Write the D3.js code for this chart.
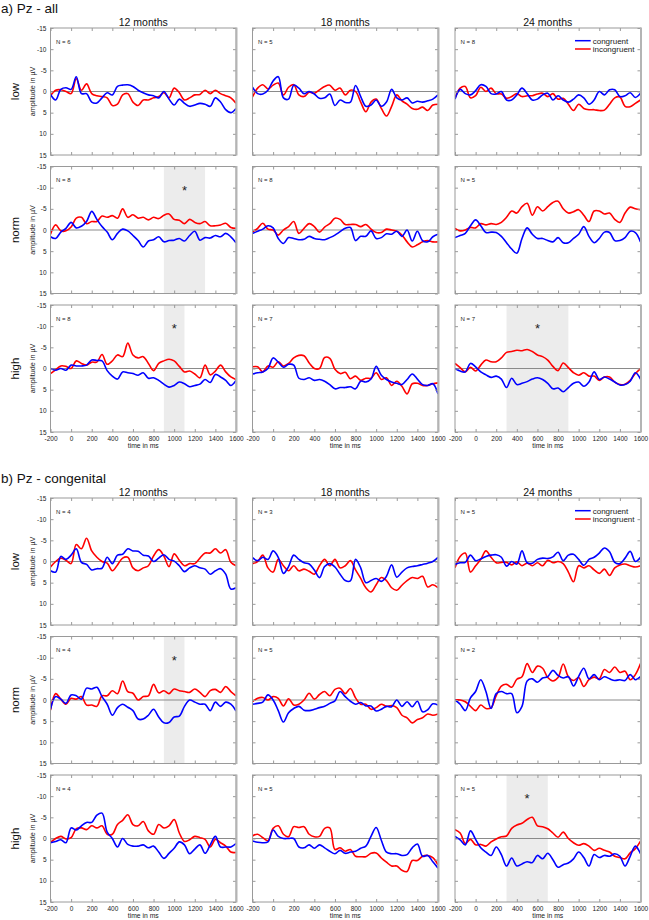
<!DOCTYPE html>
<html><head><meta charset="utf-8">
<script src="https://cdn.jsdelivr.net/npm/d3@7"></script>
<style>body{margin:0;background:#fff}svg{display:block;font-family:"Liberation Sans",Arial,Helvetica,sans-serif}</style>
</head><body><svg id="c" width="649" height="920"></svg>
<script>
// ---------- data ----------
const times = [-200,-150,-100,-50,0,50,100,150,200,250,300,350,400,450,500,550,600,650,700,750,800,850,900,950,1000,1050,1100,1150,1200,1250,1300,1350,1400,1450,1500,1550,1600];
const sectionTitles = ["a) Pz - all", "b) Pz - congenital"];
const ageLabels = ["12 months", "18 months", "24 months"];
const groupLabels = ["low", "norm", "high"];
const legendLabels = ["congruent", "incongruent"];
const yTickValues = [-15,-10,-5,0,5,10,15];
const xTickValues = [-200,0,200,400,600,800,1000,1200,1400,1600];
const nValues = [[6,5,8],[8,8,5],[8,7,7],[4,3,5],[4,5,2],[4,5,5]]; // rows: a-low,a-norm,a-high,b-low,b-norm,b-high
// significant windows: section, row, col, from, to (ms)
const sigSection = [0,0,0,1,1];
const sigRow     = [1,2,2,1,2];
const sigCol     = [0,0,2,0,2];
const sigFrom    = [900,900,300,900,300];
const sigTo      = [1300,1100,900,1100,700];
const starLevel = -10;

// a) Pz - all
const aLow12Con  = [0.7,2.0,-0.5,-0.9,-0.5,-3.5,0.5,0.5,2.5,2.7,1.5,0.3,0.8,-1.2,-1.5,-1.6,-1.2,-0.3,0.3,0.8,1.0,1.5,0,1.8,3.2,1.8,2.8,3.5,3.2,2.8,3.0,3.5,1.5,2.5,4.3,5.0,4.0];
const aLow12Inc  = [1.0,-0.3,-0.4,0.0,0.5,-3.0,-0.3,-1.8,0.5,1.0,1.2,1.5,3.3,3.0,0.8,0.5,2.5,3.3,2.0,2.0,1.5,1.2,0.3,1.5,-0.8,0.3,2.0,1.5,0.8,0.7,-0.3,0.5,-0.3,0.5,1.0,1.5,2.8];
const aLow18Con  = [-1.0,0.5,0.6,-0.3,-2.5,-3.5,1.5,1.8,-1.5,-0.8,0.5,0.0,0.6,1.6,1.5,0.6,3.3,2.0,2.6,2.5,-1.4,1.2,3.5,3.2,2.0,3.5,2.5,-0.5,1.5,2.0,1.5,2.7,2.3,2.5,2.2,1.8,0.8];
const aLow18Inc  = [1.3,-0.8,-1.6,-0.6,-1.5,-2.0,0.8,-1.0,-1.6,0.8,1.2,0.2,0.4,-0.4,-1.2,-1.5,-0.3,-0.8,0.8,-0.3,0.0,2.5,4.8,2.5,1.8,4.0,5.8,3.5,0.8,2.2,3.0,4.0,4.2,3.7,4.5,3.2,3.0];
const aLow24Con  = [1.8,-0.5,0.5,0.8,-0.2,-1.6,-1.2,0.5,0.6,0.0,2.0,2.0,0.8,-0.8,0.5,2.0,1.8,0.8,0.4,2.0,1.0,2.0,2.5,1.8,0.8,1.5,3.0,2.0,0.0,0.8,-0.4,-0.4,1.2,1.0,0.3,1.4,0.4];
const aLow24Inc  = [1.6,-0.8,-1.2,1.5,1.0,-1.0,0.0,-0.8,0.5,0.6,1.6,1.2,0.5,1.2,1.0,1.0,0.6,0.4,1.2,0.5,1.8,1.6,3.0,4.5,3.0,4.0,4.3,4.3,4.5,4.4,3.0,1.5,1.3,3.5,3.6,2.8,2.0];
const aNorm12Con = [1.6,2.0,0.5,-0.4,-1.8,-0.5,-0.9,-2.0,-4.4,-2.5,-0.8,0.5,2.3,0.8,-0.2,0.2,1.3,2.5,4.0,2.6,2.3,1.6,2.8,2.5,2.4,2.0,2.6,1.3,0.3,2.4,1.8,1.9,1.3,1.6,0.8,1.6,3.0];
const aNorm12Inc = [1.0,-1.2,0.2,0.2,-0.7,-2.8,-3.0,-1.5,-2.0,-2.0,-3.3,-3.0,-3.4,-2.8,-5.0,-3.0,-3.6,-2.8,-3.0,-2.4,-3.0,-2.7,-3.5,-3.8,-2.5,-2.3,-1.5,-2.5,-1.8,-1.5,-2.0,-1.0,-1.0,-1.2,-1.6,-0.6,-0.4];
const aNorm18Con = [0.8,0.3,-0.2,-1.0,-0.5,2.0,3.2,1.8,2.0,2.3,2.2,1.5,2.0,2.2,2.3,1.8,1.2,0.4,-0.4,-0.6,2.5,1.5,1.5,0.2,2.0,1.8,0.9,1.0,0.3,1.5,0.0,2.6,0.3,2.5,2.8,1.6,1.0];
const aNorm18Inc = [0.5,-0.4,-1.6,-0.2,0.0,1.2,0.0,-0.8,-2.0,0.8,-0.4,-1.5,-0.8,0.5,-0.7,-1.5,-2.8,-2.5,-1.3,-1.3,-1.3,-0.8,-1.3,-0.2,0.6,0.6,-0.2,0.0,0.3,1.2,2.8,4.0,3.5,2.8,2.5,2.8,2.8];
const aNorm24Con = [1.8,1.3,0.8,-1.0,-2.4,-1.0,0.6,0.5,0.6,1.5,3.0,4.5,5.5,2.0,-0.5,1.0,2.0,2.0,2.5,2.8,1.8,3.0,3.0,2.0,1.0,-0.8,1.5,3.0,2.0,0.5,0.6,2.5,2.5,1.8,0.3,0.6,2.8];
const aNorm24Inc = [-0.4,0.2,0.0,-0.6,-0.5,-1.5,-1.2,-1.5,-1.3,-1.8,-3.0,-4.5,-4.0,-5.5,-6.3,-3.5,-5.5,-4.5,-5.5,-6.5,-6.8,-5.0,-4.0,-4.3,-4.8,-3.5,-2.0,-4.5,-4.5,-3.8,-4.0,-2.5,-1.8,-4.0,-5.4,-5.0,-4.8];
const aHigh12Con = [0.0,0.4,0.0,0.4,-0.8,-0.6,-0.6,-0.8,-2.0,-1.9,-1.8,0.5,1.8,2.5,0.8,1.0,1.2,1.6,1.0,2.3,2.2,2.8,3.7,4.4,4.0,3.2,3.6,4.3,4.0,3.7,2.6,3.3,1.4,2.0,2.8,4.0,2.8];
const aHigh12Inc = [1.2,0.3,-0.6,-0.5,0.0,-1.8,-1.2,-0.8,-1.5,-1.5,-3.3,-1.0,-1.8,-3.2,-2.8,-6.0,-3.2,-2.5,-2.8,-1.2,0.5,-1.2,-1.8,-2.2,-1.8,-0.5,0.8,0.6,1.3,2.2,-0.8,1.5,0.6,-0.8,0.8,2.0,2.6];
const aHigh18Con = [1.3,1.0,0.8,0.0,-2.5,-1.5,-0.3,-1.0,-0.8,2.3,2.6,2.2,2.8,2.6,3.0,3.8,4.8,4.5,4.5,4.3,4.8,3.0,3.2,2.5,-0.5,1.6,2.6,3.2,3.5,3.8,2.6,1.3,2.5,3.8,4.0,3.6,6.0];
const aHigh18Inc = [-0.4,-0.4,0.8,-0.6,-0.3,-1.6,-0.6,-1.2,-2.5,-3.1,-3.0,-1.3,0.0,0.0,-2.6,-2.4,0.2,1.2,0.9,2.4,1.8,2.8,2.3,2.3,1.0,2.6,2.2,4.0,3.0,4.2,6.0,3.6,3.5,4.0,4.0,3.6,3.4];
const aHigh24Con = [0.0,0.6,0.8,-1.2,-0.4,0.8,1.5,2.1,1.8,2.5,4.5,2.3,3.8,3.5,3.1,2.5,2.2,2.6,3.5,4.8,4.6,5.5,4.5,3.5,3.2,4.2,3.2,0.8,2.6,2.0,2.5,3.2,3.9,3.8,3.0,1.0,2.5];
const aHigh24Inc = [-1.2,-0.2,0.8,-0.3,0.6,-0.8,-2.0,-1.6,-1.6,-2.5,-3.8,-4.0,-4.3,-4.2,-4.5,-4.0,-3.2,-2.8,-2.0,-0.5,0.5,-1.3,-0.2,1.0,1.6,1.0,1.8,1.8,2.8,2.0,2.0,3.2,3.8,3.7,2.8,1.2,0.0];
// b) Pz - congenital
const bLow12Con  = [2.2,2.5,-1.2,-0.5,-1.5,-3.0,0.2,0.7,2.0,1.7,1.6,-1.0,0.5,-1.5,-1.7,-3.0,-2.5,-2.4,-1.5,-1.3,0.0,-0.8,-1.6,-0.5,-0.1,1.0,2.4,1.5,1.0,1.5,1.8,3.0,2.2,1.7,3.0,6.5,6.2];
const bLow12Inc  = [1.3,0.0,-0.8,-0.3,0.5,-4.0,-3.0,-5.5,-2.5,-1.0,0.0,0.4,2.2,0.8,-0.8,-1.0,1.5,2.2,1.5,1.0,-1.3,-2.8,-1.3,1.2,-1.8,-0.3,1.0,0.5,0.5,-0.8,-2.0,-2.0,-3.0,-2.0,-2.8,0.2,1.0];
const bLow18Con  = [-0.9,-0.2,-1.0,-0.5,-2.5,-1.0,2.8,1.2,-1.5,-0.5,0.3,0.6,2.0,3.8,1.2,0.5,1.3,3.0,4.5,4.6,-0.5,1.5,5.0,4.5,4.0,4.7,3.5,0.8,3.7,2.5,1.5,1.2,1.0,0.7,0.4,0.0,-1.0];
const bLow18Inc  = [0.5,0.0,-1.5,1.5,2.5,-0.5,1.0,2.2,1.0,2.2,1.8,2.3,3.0,1.0,-0.5,1.0,-0.5,1.5,1.0,-0.2,2.0,4.0,6.2,7.2,5.5,3.8,4.5,6.2,6.8,5.6,4.5,3.8,4.0,3.5,6.0,5.5,6.2];
const bLow24Con  = [0.7,0.3,0.2,-1.5,-0.2,-0.6,-1.2,-1.5,-1.6,-1.0,1.1,0.0,0.6,-2.5,0.3,0.4,-0.5,-0.8,-0.7,-1.1,-2.2,-0.2,-1.5,-1.7,-0.5,0.9,-0.5,-1.0,-2.0,-3.2,-2.3,0.2,0.5,-0.8,-2.4,0.0,-1.0];
const bLow24Inc  = [1.5,-1.2,-2.0,2.5,1.0,-0.5,-2.5,-1.0,0.3,0.2,0.2,0.8,0.1,1.0,0.4,1.0,0.3,1.0,-0.3,0.3,0.0,0.5,2.5,4.8,1.0,1.5,1.0,2.0,2.8,1.8,3.3,1.5,0.8,0.6,1.0,1.3,1.0];
const bNorm12Con = [2.2,-0.8,-0.2,0.8,-1.2,-1.0,-0.2,-2.8,-2.6,-3.0,-0.8,1.0,3.6,1.8,1.0,1.7,2.5,4.5,4.5,3.6,2.2,4.0,5.4,5.3,4.0,3.8,1.5,0.0,0.5,1.0,1.0,2.5,0.5,1.5,0.5,1.0,2.6];
const bNorm12Inc = [2.4,-1.5,-0.2,1.0,-0.4,-0.2,-0.8,1.2,1.2,1.5,-1.0,-1.0,-2.2,-1.5,-4.5,-2.0,-1.6,0.0,-0.8,-1.0,-3.7,-1.7,-2.2,-1.5,-2.6,-2.2,-2.0,-1.8,-2.6,-1.8,-0.8,-2.2,-2.5,-1.8,-3.2,-2.0,-1.0];
const bNorm18Con = [1.0,0.8,0.5,-1.2,0.0,2.5,5.2,3.0,2.0,1.5,2.4,2.5,2.2,1.8,1.5,0.8,0.2,-2.0,-0.8,0.3,1.0,0.6,1.4,1.4,2.6,2.2,1.5,1.6,0.0,1.5,0.4,1.6,0.3,2.8,2.3,0.9,1.2];
const bNorm18Inc = [0.4,-0.4,-0.6,0.0,-0.8,-0.4,1.4,-0.3,1.2,1.0,0.0,-1.6,-0.2,-1.3,-2.0,-1.0,-2.5,-2.8,-1.5,-2.7,-0.5,1.0,1.0,2.2,1.8,1.0,1.5,1.3,1.8,3.6,4.2,5.4,4.6,4.2,3.3,3.6,3.3];
const bNorm24Con = [0.0,1.0,2.5,-0.5,-2.0,-4.8,-2.0,2.0,-1.5,-2.0,-1.5,-1.5,3.0,1.5,-4.5,-5.0,-4.2,-5.2,-5.5,-7.0,-5.8,-5.2,-5.5,-3.3,-5.6,-7.5,-5.0,-6.0,-4.8,-5.5,-5.0,-4.6,-4.8,-4.6,-6.0,-4.8,-5.5];
const bNorm24Inc = [0.0,0.0,0.4,1.5,2.5,1.2,2.0,1.8,-1.0,-3.3,-3.7,-3.0,-4.9,-5.5,-8.6,-6.5,-8.0,-7.5,-5.3,-4.5,-5.3,-8.5,-5.5,-4.6,-5.3,-3.2,-4.8,-5.4,-5.0,-7.2,-6.5,-7.8,-6.5,-6.8,-4.8,-6.0,-8.6];
const bHigh12Con = [1.0,0.7,0.3,1.0,-2.5,-2.0,-3.0,-3.8,-3.8,-5.5,-6.0,-1.5,0.0,2.0,0.0,1.4,1.8,1.8,1.5,2.2,1.8,3.2,4.7,3.5,2.3,0.8,1.5,3.6,2.5,1.5,3.5,1.5,-0.5,2.0,2.0,2.0,1.2];
const bHigh12Inc = [0.9,0.0,-0.5,0.1,-0.2,-2.3,-2.5,-2.1,-3.0,-2.5,-3.0,-1.0,-1.0,-3.3,-4.3,-5.6,-3.3,-3.0,-4.0,-1.8,-1.0,-3.3,-2.5,-3.0,-4.5,-1.3,0.7,0.3,-0.5,-0.2,0.2,2.0,0.2,1.0,1.8,3.2,3.3];
const bHigh18Con = [0.6,0.9,1.0,0.8,-2.0,-0.5,0.0,0.0,0.0,2.0,2.2,1.5,2.3,1.5,2.2,3.0,3.6,2.8,3.5,3.2,3.0,2.3,1.8,-0.5,-2.6,0.4,3.2,3.6,3.6,4.0,3.8,2.2,1.3,4.2,4.0,5.5,7.0];
const bHigh18Inc = [-0.6,-1.0,-0.2,0.5,-2.4,-3.0,-1.0,-0.4,-2.8,-2.6,-2.8,-1.0,-0.4,-0.5,-2.4,-2.5,2.6,2.2,3.0,2.6,4.2,4.3,4.3,3.5,3.4,4.6,5.6,6.5,6.5,7.5,7.8,5.2,5.2,4.2,4.0,4.5,6.2];
const bHigh24Con = [-0.5,0.3,1.5,-1.8,0.2,2.2,3.2,4.0,2.0,3.8,6.5,4.6,6.5,6.0,5.5,5.7,4.0,4.8,3.5,5.0,6.8,6.2,5.8,4.8,3.2,4.5,6.5,3.8,4.5,4.0,4.2,3.6,4.2,6.5,4.2,1.8,3.6];
const bHigh24Inc = [-2.1,-1.3,1.2,0.2,1.5,1.4,1.8,0.8,0.1,-0.4,-0.6,-2.4,-3.2,-3.6,-4.5,-5.0,-3.0,-2.8,-2.3,-1.3,-0.3,-1.5,0.0,1.0,1.6,1.2,1.8,2.8,2.3,2.8,3.2,4.2,4.5,4.8,3.4,2.4,0.6];

// table of panels built from the arrays: [section][row][col] -> [congruent, incongruent]
const seriesTable = [
  [[[aLow12Con,aLow12Inc],[aLow18Con,aLow18Inc],[aLow24Con,aLow24Inc]],
   [[aNorm12Con,aNorm12Inc],[aNorm18Con,aNorm18Inc],[aNorm24Con,aNorm24Inc]],
   [[aHigh12Con,aHigh12Inc],[aHigh18Con,aHigh18Inc],[aHigh24Con,aHigh24Inc]]],
  [[[bLow12Con,bLow12Inc],[bLow18Con,bLow18Inc],[bLow24Con,bLow24Inc]],
   [[bNorm12Con,bNorm12Inc],[bNorm18Con,bNorm18Inc],[bNorm24Con,bNorm24Inc]],
   [[bHigh12Con,bHigh12Inc],[bHigh18Con,bHigh18Inc],[bHigh24Con,bHigh24Inc]]]
];

// ---------- layout ----------
const colLeft = [50.5, 252.5, 455];
const panelW = 185.5, panelH = 127;
const sectionTop = [28, 498];
const rowStep = 138.5;
const lineColors = ["#0000ff", "#ff0000"];
const frameColor = "#9a9a9a";

const svg = d3.select("#c");
let clipId = 0;

sectionTitles.forEach((title, s) => {
  svg.append("text").attr("x", 1).attr("y", sectionTop[s] - 15.5)
    .attr("font-size", 13.5).attr("fill", "#111").text(title);
  ageLabels.forEach((lab, c) => {
    svg.append("text").attr("x", colLeft[c] + panelW / 2).attr("y", sectionTop[s] - 2.5)
      .attr("text-anchor", "middle").attr("font-size", 10.5).attr("fill", "#111").text(lab);
  });
  groupLabels.forEach((g, r) => {
    const top = sectionTop[s] + r * rowStep;
    svg.append("text")
      .attr("transform", `translate(18.5,${top + panelH / 2}) rotate(-90)`)
      .attr("text-anchor", "middle").attr("font-size", 11.5).attr("fill", "#111").text(g);
    for (let c = 0; c < 3; c++) drawPanel(s, r, c, top);
  });
});

function drawPanel(s, r, c, top) {
  const left = colLeft[c];
  const x = d3.scaleLinear().domain([-200, 1600]).range([left, left + panelW]);
  const y = d3.scaleLinear().domain([-15, 15]).range([top, top + panelH]);
  const g = svg.append("g");
  const id = "clip" + (clipId++);
  g.append("clipPath").attr("id", id).append("rect")
    .attr("x", left).attr("y", top).attr("width", panelW).attr("height", panelH);

  // significance shading
  sigSection.forEach((ss, i) => {
    if (ss === s && sigRow[i] === r && sigCol[i] === c) {
      g.append("rect").attr("x", x(sigFrom[i])).attr("y", top)
        .attr("width", x(sigTo[i]) - x(sigFrom[i])).attr("height", panelH)
        .attr("fill", "#ececec");
      g.append("text").attr("x", x((sigFrom[i] + sigTo[i]) / 2)).attr("y", y(starLevel) + 7)
        .attr("text-anchor", "middle").attr("font-size", 13).attr("fill", "#222").text("*");
    }
  });

  // zero line
  g.append("line").attr("x1", left).attr("x2", left + panelW)
    .attr("y1", y(0)).attr("y2", y(0)).attr("stroke", "#8a8a8a").attr("stroke-width", 1);

  // waveforms
  const line = d3.line().x((d, i) => x(times[i])).y(d => y(d)).curve(d3.curveCatmullRom.alpha(0.5));
  const pair = seriesTable[s][r][c];
  [1, 0].forEach(k => {
    g.append("path").datum(pair[k]).attr("d", line)
      .attr("fill", "none").attr("stroke", lineColors[k]).attr("stroke-width", 1.6)
      .attr("stroke-linejoin", "round").attr("clip-path", `url(#${id})`);
  });

  // axes with inward ticks
  const firstCol = c === 0, lastRow = r === 2;
  const axL = d3.axisLeft(y).tickValues(yTickValues).tickSize(-3).tickPadding(4)
    .tickFormat(firstCol ? (d => String(d)) : () => "");
  const axR = d3.axisRight(y).tickValues(yTickValues).tickSize(-3).tickFormat(() => "");
  const axT = d3.axisTop(x).tickValues(xTickValues).tickSize(-3).tickFormat(() => "");
  const axB = d3.axisBottom(x).tickValues(xTickValues).tickSize(-3).tickPadding(4)
    .tickFormat(lastRow ? (d => String(d)) : () => "");
  const styleAx = sel => {
    sel.select(".domain").remove();
    sel.selectAll(".tick line").attr("stroke", frameColor);
    sel.selectAll(".tick text").attr("fill", "#222").attr("font-size", 6.5)
      .attr("font-family", '"Liberation Sans",Arial,sans-serif');
  };
  g.append("g").attr("transform", `translate(${left},0)`).call(axL).call(styleAx);
  g.append("g").attr("transform", `translate(${left + panelW},0)`).call(axR).call(styleAx);
  g.append("g").attr("transform", `translate(0,${top})`).call(axT).call(styleAx);
  g.append("g").attr("transform", `translate(0,${top + panelH})`).call(axB).call(styleAx);

  // frame (right edge drawn wider and lighter, like the original box)
  g.append("rect").attr("x", left).attr("y", top).attr("width", panelW).attr("height", panelH)
    .attr("fill", "none").attr("stroke", frameColor).attr("stroke-width", 1);
  g.append("line").attr("x1", left + panelW + 0.5).attr("x2", left + panelW + 0.5)
    .attr("y1", top - 0.5).attr("y2", top + panelH + 0.5)
    .attr("stroke", "#b4b4b4").attr("stroke-width", 2);

  if (firstCol) {
    svg.append("text")
      .attr("transform", `translate(35,${top + panelH / 2}) rotate(-90)`)
      .attr("text-anchor", "middle").attr("font-size", 7.2).attr("fill", "#222").text("amplitude in µV");
  }
  if (lastRow) {
    svg.append("text").attr("x", left + panelW / 2).attr("y", top + panelH + 15.5)
      .attr("text-anchor", "middle").attr("font-size", 6.8).attr("fill", "#222").text("time in ms");
  }

  // N label
  svg.append("text").attr("x", left + 5.5).attr("y", top + 15.8)
    .attr("font-size", 6).attr("fill", "#222").text("N = " + nValues[s * 3 + r][c]);

  // legend (top-right panel of each section)
  if (r === 0 && c === 2) {
    legendLabels.forEach((lab, k) => {
      const ly = top + 12.7 + k * 8.3;
      svg.append("line").attr("x1", left + 120).attr("x2", left + 135.7)
        .attr("y1", ly).attr("y2", ly).attr("stroke", lineColors[k]).attr("stroke-width", 1.5);
      svg.append("text").attr("x", left + 137.7).attr("y", ly + 2.8)
        .attr("font-size", 8).attr("fill", "#222").text(lab);
    });
  }
}
</script>
</body></html>
